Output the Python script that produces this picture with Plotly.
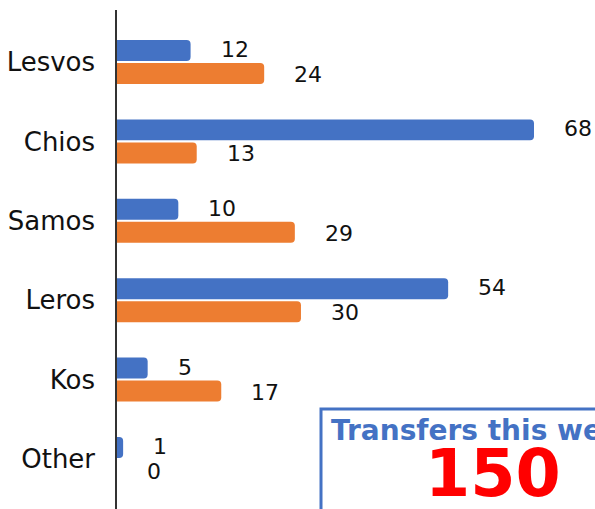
import plotly.graph_objects as go

categories = ["Lesvos", "Chios", "Samos", "Leros", "Kos", "Other"]
blue_values = [12, 68, 10, 54, 5, 1]
orange_values = [24, 13, 29, 30, 17, 0]
box_title = "Transfers this week"
box_total = 150

BLUE = "#4472C4"
ORANGE = "#ED7D31"
W, H = 595, 509
L, T = 117, 10
PW, PH = W - L, H - T
FONT = "DejaVu Sans"


def px_x(p):  # reference pixel -> paper x
    return (p - L) / PW


def px_y(p):  # reference pixel -> paper y
    return (H - p) / PH


fig = go.Figure()
fig.add_trace(go.Bar(y=categories, x=blue_values, orientation="h",
                     marker=dict(color=BLUE, line=dict(width=0)), name="A"))
fig.add_trace(go.Bar(y=categories, x=orange_values, orientation="h",
                     marker=dict(color=ORANGE, line=dict(width=0)), name="B"))

annotations = []
for vals, shift in ((blue_values, 12.5), (orange_values, -12.5)):
    for cat, v in zip(categories, vals):
        annotations.append(dict(x=v, y=cat, xref="x", yref="y", text=str(v),
                                showarrow=False, xanchor="left", yanchor="middle",
                                xshift=28, yshift=shift,
                                font=dict(size=22, color="#111", family=FONT)))

annotations.append(dict(x=px_x(329), y=px_y(412), xref="paper", yref="paper",
                        text="<b>" + box_title + "</b>", showarrow=False,
                        xanchor="left", yanchor="top",
                        font=dict(size=28, color=BLUE, family=FONT)))
annotations.append(dict(x=px_x(493), y=px_y(473), xref="paper", yref="paper",
                        text="<b>" + str(box_total) + "</b>", showarrow=False,
                        xanchor="center", yanchor="middle",
                        font=dict(size=65, color="#FF0000", family=FONT)))

fig.update_layout(
    width=W, height=H,
    margin=dict(l=L, r=0, t=T, b=0, pad=0),
    plot_bgcolor="white", paper_bgcolor="white",
    barmode="group", bargap=0.42, bargroupgap=0.09, barcornerradius=4,
    showlegend=False,
    annotations=annotations,
    shapes=[dict(type="rect", xref="paper", yref="paper",
                 x0=px_x(321), x1=px_x(660), y0=px_y(540), y1=px_y(409),
                 line=dict(color=BLUE, width=3), fillcolor="white", layer="above")],
    xaxis=dict(range=[0, PW / (417 / 68)], visible=False, showgrid=False,
               zeroline=False),
    yaxis=dict(range=[5.63, -0.655], showline=True, linecolor="#333",
               linewidth=1.5, showgrid=False, zeroline=False, ticks="",
               ticklabelstandoff=15,
               tickfont=dict(size=26, color="#111", family=FONT)),
)

fig.write_html("out.html", config={"displayModeBar": False},
               post_script="document.body.style.margin='0';"
                           "document.body.style.overflow='hidden';")
